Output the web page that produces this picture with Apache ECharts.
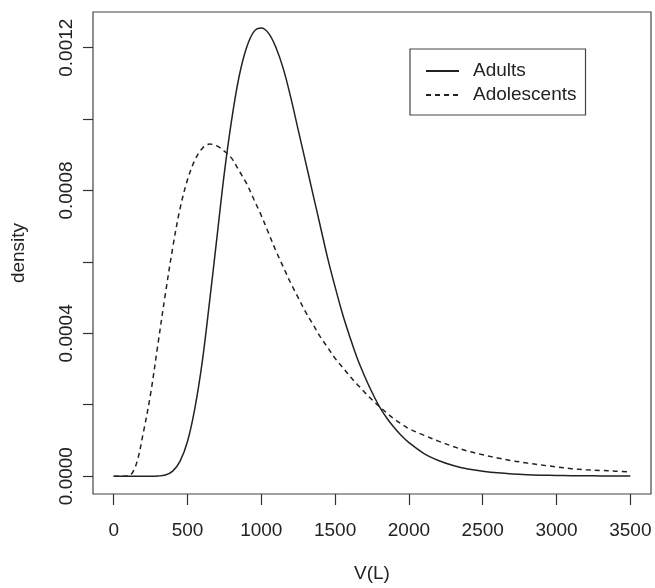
<!DOCTYPE html>
<html>
<head>
<meta charset="utf-8">
<script src="https://cdn.jsdelivr.net/npm/echarts@6/dist/echarts.min.js"></script>
<style>
  html, body { margin: 0; padding: 0; background: #fff; }
  #chart { width: 655px; height: 588px; }
</style>
</head>
<body>
<div id="chart"></div>
<script>
// Volume grid (litres) shared by both density curves
const volumes = [0, 50, 100, 150, 200, 250, 300, 350, 400, 450, 500, 550, 600, 650, 700, 750, 800, 850, 900, 950,
  1000, 1050, 1100, 1150, 1200, 1250, 1300, 1350, 1400, 1450, 1500, 1550, 1600, 1650, 1700, 1750, 1800, 1850, 1900, 1950,
  2000, 2100, 2200, 2300, 2400, 2500, 2600, 2700, 2800, 2900, 3000, 3100, 3200, 3300, 3400, 3500];

// Density of V for adults
const adults = [0, 0, 0, 0, 0, 0, 0.0000005, 0.000003, 0.000014, 0.000042, 0.000097, 0.00019, 0.00032, 0.00049, 0.00067, 0.00085, 0.001, 0.00112, 0.0012, 0.001245,
  0.001255, 0.00124, 0.0012, 0.00114, 0.00106, 0.00097, 0.00088, 0.00079, 0.0007, 0.00061, 0.00053, 0.000455, 0.00039, 0.00033, 0.00028, 0.000235, 0.000195, 0.000163, 0.000136, 0.000113,
  0.000094, 0.000064, 0.000044, 0.00003, 0.00002, 0.000014, 0.0000092, 0.000006, 0.000004, 0.0000028, 0.000002, 0.0000014, 0.000001, 0.0000006, 0.0000004, 0.0000002];

// Density of V for adolescents
const adolescents = [0, 0, 0.0000005, 0.00003, 0.00012, 0.00023, 0.00037, 0.00051, 0.00064, 0.00075, 0.00083, 0.000885, 0.000918, 0.00093, 0.000925, 0.00091, 0.00089, 0.000855, 0.00082, 0.000775,
  0.00073, 0.00068, 0.00063, 0.000585, 0.00054, 0.0005, 0.00046, 0.000425, 0.00039, 0.00036, 0.00033, 0.000305, 0.00028, 0.000257, 0.000235, 0.000214, 0.000195, 0.000177, 0.00016, 0.000146,
  0.000133, 0.000115, 0.000098, 0.000083, 0.00007, 0.00006, 0.000051, 0.000043, 0.000037, 0.000031, 0.000026, 0.000021, 0.000018, 0.000016, 0.000014, 0.000012];

// Axis ticks and labels
const xTicks = [0, 500, 1000, 1500, 2000, 2500, 3000, 3500];
const yTicks = [0, 0.0002, 0.0004, 0.0006, 0.0008, 0.001, 0.0012];
const yLabels = [0, 0.0004, 0.0008, 0.0012];

const seriesNames = ['Adults', 'Adolescents'];

const pairs = (ys) => volumes.map((v, i) => [v, ys[i]]);

const FONT = 'Liberation Sans, Arial, sans-serif';
const INK = '#222';

const chart = echarts.init(document.getElementById('chart'), null, { renderer: 'canvas' });

chart.setOption({
  animation: false,
  backgroundColor: '#fff',
  grid: {
    left: 93, top: 12, right: 4, bottom: 91,
    show: true, borderColor: '#444', borderWidth: 1.2, backgroundColor: 'transparent'
  },
  legend: {
    orient: 'vertical',
    left: 410, top: 49,
    padding: [12, 9, 10, 15],
    borderColor: '#444', borderWidth: 1.2,
    itemWidth: 33, itemHeight: 20, itemGap: 4,
    itemStyle: { opacity: 0 },
    textStyle: { fontFamily: FONT, fontSize: 19, color: INK, lineHeight: 20, padding: [0, 0, 0, 9] },
    data: seriesNames
  },
  xAxis: {
    type: 'value',
    min: -140, max: 3640,
    name: 'V(L)',
    nameLocation: 'middle',
    nameGap: 70,
    nameTextStyle: { fontFamily: FONT, fontSize: 19, color: INK },
    axisLine: { show: false, onZero: false },
    splitLine: { show: false },
    axisTick: { show: true, length: 11, customValues: xTicks, lineStyle: { color: '#333', width: 1.2 } },
    axisLabel: { customValues: xTicks, margin: 27, fontFamily: FONT, fontSize: 19, color: INK, formatter: (v) => String(v) }
  },
  yAxis: {
    type: 'value',
    min: -0.00005, max: 0.0013,
    name: 'density',
    nameLocation: 'middle',
    nameRotate: 90,
    nameGap: 65,
    nameTextStyle: { fontFamily: FONT, fontSize: 19, color: INK },
    axisLine: { show: false, onZero: false },
    splitLine: { show: false },
    axisTick: { show: true, length: 10, customValues: yTicks, lineStyle: { color: '#333', width: 1.2 } },
    axisLabel: {
      customValues: yLabels, rotate: 90, margin: 17,
      fontFamily: FONT, fontSize: 19, color: INK,
      formatter: (v) => v.toFixed(4)
    }
  },
  series: [
    {
      name: seriesNames[0], type: 'line', data: pairs(adults),
      showSymbol: false, symbol: 'none', smooth: 0.35,
      lineStyle: { color: '#222', width: 1.5, type: 'solid' },
      itemStyle: { color: '#222' }
    },
    {
      name: seriesNames[1], type: 'line', data: pairs(adolescents),
      showSymbol: false, symbol: 'none', smooth: 0.35,
      lineStyle: { color: '#222', width: 1.5, type: [5, 4] },
      itemStyle: { color: '#222' }
    }
  ]
});
</script>
</body>
</html>
